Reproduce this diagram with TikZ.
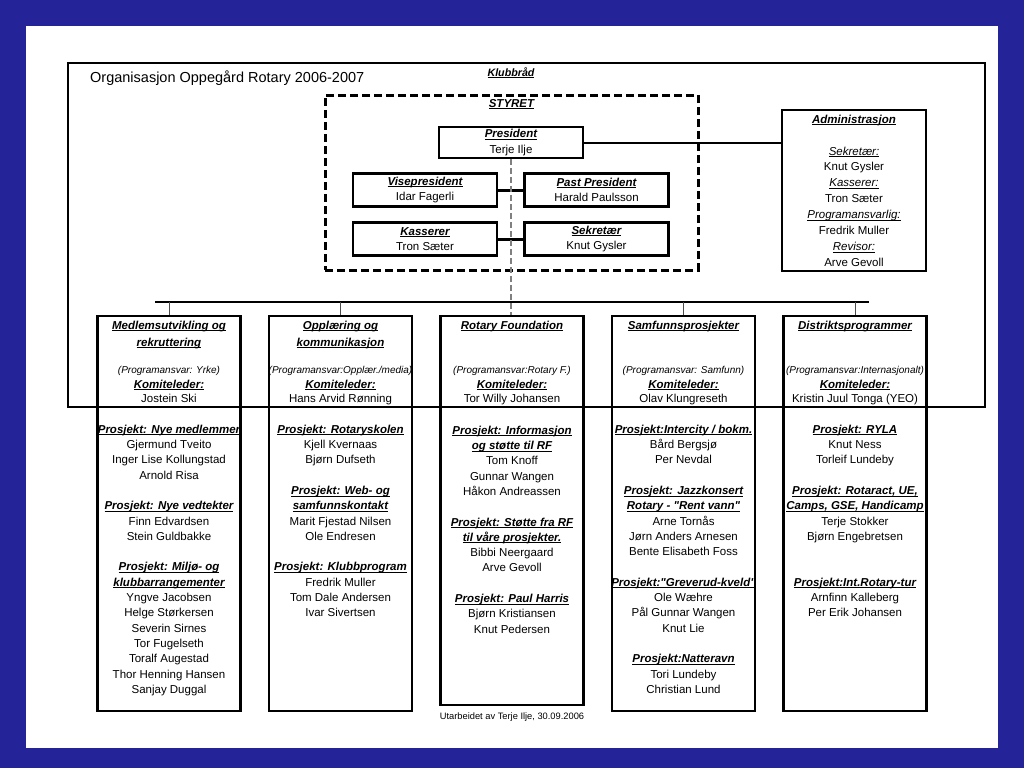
\documentclass[tikz,border=0pt]{standalone}
\usepackage{fontspec}
\setmainfont{Liberation Sans}[Ligatures=TeXOff]
\definecolor{bgblue}{RGB}{36,36,152}
\newcommand\ulx[1]{\setbox0\hbox{#1}\rlap{\rule[-1.7pt]{\wd0}{0.6pt}}\box0}
\newcommand\hd[1]{\ulx{\bfseries\itshape #1}}
\newcommand\hi[1]{\ulx{\itshape #1}}
\newcommand\nf{\fontsize{11.5}{15.3}\selectfont}
\newcommand\strutx{\rule{0pt}{10pt}}
\tikzset{
  box/.style={draw=black, line width=2.8pt, inner sep=0pt, minimum width=143pt},
  sbox/.style={box, minimum width=144pt, minimum height=33pt, align=center, font=\fontsize{11.5}{15.5}\selectfont},
  colbox/.style={box, minimum height=395pt},
  txt/.style={inner sep=0pt, align=center, font=\nf},
  small/.style={inner sep=0pt, font=\fontsize{10}{12}\selectfont\itshape},
  conn/.style={draw=black, line width=3pt},
  drop/.style={draw=gray!60!black, line width=1pt},
}
\begin{document}
\begin{tikzpicture}[x=1pt,y=-1pt]
\fill[bgblue] (0,0) rectangle (1024,768);
\fill[white] (26,26) rectangle (998,748);
\useasboundingbox (0,0) rectangle (1024,768);

% Klubbraad frame
\node[draw=black, line width=1.5pt, minimum width=917pt, minimum height=344pt, inner sep=0pt] (klubb) at (526.5,235) {};
\node[anchor=base west, inner sep=0pt, font=\fontsize{14.5}{17}\selectfont] (title) at (90,82) {Organisasjon Oppegård Rotary 2006-2007};
\node[anchor=base, inner sep=0pt, font=\fontsize{10.7}{12}\selectfont] (klubbt) at (511,76) {\hd{Klubbråd}};

% Styret
\node[draw=black, line width=3pt, dash pattern=on 8pt off 4pt, minimum width=373pt, minimum height=175pt, inner sep=0pt] (styret) at (511.5,182.5) {};
\node[anchor=base, inner sep=0pt, font=\nf] (styrett) at (511.5,107) {\hd{STYRET}};
\node[sbox, minimum height=31pt] (pres) at (511,142.5) {\hd{President}\\Terje Ilje};
\node[sbox] (vise) at (425,190) {\hd{Visepresident}\\Idar Fagerli};
\node[sbox] (past) at (596.5,190) {\hd{Past President}\\Harald Paulsson};
\node[sbox] (kass) at (425,239) {\hd{Kasserer}\\Tron Sæter};
\node[sbox] (sekr) at (596.5,239) {\hd{Sekretær}\\Knut Gysler};
\draw[conn] (vise) -- (past);
\draw[conn] (kass) -- (sekr);

% Administrasjon
\node[box, minimum width=144pt, minimum height=161pt] (adm) at (854,190.5) {};
\node[txt, anchor=north, font=\fontsize{11.5}{15.9}\selectfont] (admt) at (854,113) {\strutx\hd{Administrasjon}\\[15.9pt]
\hi{Sekretær:}\\Knut Gysler\\\hi{Kasserer:}\\Tron Sæter\\\hi{Programansvarlig:}\\Fredrik Muller\\\hi{Revisor:}\\Arve Gevoll};
\draw[line width=2pt] (pres.east) -- (pres.east -| adm.west);

% Columns
\node[colbox] (col1) at (169,513.5) {};
\node[colbox] (col2) at (340.5,513.5) {};
\node[colbox, minimum height=389pt] (col3) at (512,510.5) {};
\node[colbox] (col4) at (683.5,513.5) {};
\node[colbox] (col5) at (855,513.5) {};

% bus and drops
\coordinate (busL) at (155,302);
\coordinate (busR) at (869,302);
\draw[line width=2.2pt] (busL) -- (busR);
\draw[drop] (col1.north |- busL) -- (col1.north);
\draw[drop] (col2.north |- busL) -- (col2.north);
\draw[drop] (col4.north |- busL) -- (col4.north);
\draw[drop] (col5.north |- busL) -- (col5.north);
\draw[gray, line width=1.5pt, dash pattern=on 6pt off 3pt] (pres.south) -- (pres.south |- col3.north);

% Column headers
\node[txt, anchor=north] (h1) at (169,319) {\strutx\hd{Medlemsutvikling og}\\[1.5pt]\hd{rekruttering}};
\node[txt, anchor=north] (h2) at (340.5,319) {\strutx\hd{Opplæring og}\\[1.5pt]\hd{kommunikasjon}};
\node[txt, anchor=north] (h3) at (512,319) {\strutx\hd{Rotary Foundation}};
\node[txt, anchor=north] (h4) at (683.5,319) {\strutx\hd{Samfunnsprosjekter}};
\node[txt, anchor=north] (h5) at (855,319) {\strutx\hd{Distriktsprogrammer}};

\node[small, anchor=base] (p1) at (169,373.5) {(Programansvar: Yrke)};
\node[small, anchor=base] (p2) at (340.5,373.5) {(Programansvar:Opplær./media)};
\node[small, anchor=base] (p3) at (512,373.5) {(Programansvar:Rotary F.)};
\node[small, anchor=base] (p4) at (683.5,373.5) {(Programansvar: Samfunn)};
\node[small, anchor=base] (p5) at (855,373.5) {(Programansvar:Internasjonalt)};

\foreach \i/\x in {1/169,2/340.5,3/512,4/683.5,5/855}
  \node[txt, anchor=base] (k\i) at (\x,388) {\hd{Komiteleder:}};

\node[txt, anchor=base] (n1) at (169,402) {Jostein Ski};
\node[txt, anchor=base] (n2) at (340.5,402) {Hans Arvid Rønning};
\node[txt, anchor=base] (n3) at (512,402) {Tor Willy Johansen};
\node[txt, anchor=base] (n4) at (683.5,402) {Olav Klungreseth};
\node[txt, anchor=base] (n5) at (855,402) {Kristin Juul Tonga (YEO)};

% Project lists
\node[txt, anchor=north] (l1) at (169,423) {\strutx\hd{Prosjekt: Nye medlemmer}\\
Gjermund Tveito\\Inger Lise Kollungstad\\Arnold Risa\\[15.3pt]
\hd{Prosjekt: Nye vedtekter}\\Finn Edvardsen\\Stein Guldbakke\\[15.3pt]
\hd{Prosjekt: Miljø- og}\\\hd{klubbarrangementer}\\Yngve Jacobsen\\Helge Størkersen\\Severin Sirnes\\Tor Fugelseth\\Toralf Augestad\\Thor Henning Hansen\\Sanjay Duggal};

\node[txt, anchor=north] (l2) at (340.5,423) {\strutx\hd{Prosjekt: Rotaryskolen}\\
Kjell Kvernaas\\Bjørn Dufseth\\[15.3pt]
\hd{Prosjekt: Web- og}\\\hd{samfunnskontakt}\\Marit Fjestad Nilsen\\Ole Endresen\\[15.3pt]
\hd{Prosjekt: Klubbprogram}\\Fredrik Muller\\Tom Dale Andersen\\Ivar Sivertsen};

\node[txt, anchor=north] (l3) at (512,424) {\strutx\hd{Prosjekt: Informasjon}\\
\hd{og støtte til RF}\\Tom Knoff\\Gunnar Wangen\\Håkon Andreassen\\[15.3pt]
\hd{Prosjekt: Støtte fra RF}\\\hd{til våre prosjekter.}\\Bibbi Neergaard\\Arve Gevoll\\[15.3pt]
\hd{Prosjekt: Paul Harris}\\Bjørn Kristiansen\\Knut Pedersen};

\node[txt, anchor=north] (l4) at (683.5,423) {\strutx\hd{Prosjekt:Intercity / bokm.}\\
Bård Bergsjø\\Per Nevdal\\[15.3pt]
\hd{Prosjekt: Jazzkonsert}\\\hd{Rotary - "Rent vann"}\\Arne Tornås\\Jørn Anders Arnesen\\Bente Elisabeth Foss\\[15.3pt]
\hd{Prosjekt:"Greverud-kveld"}\\Ole Wæhre\\Pål Gunnar Wangen\\Knut Lie\\[15.3pt]
\hd{Prosjekt:Natteravn}\\Tori Lundeby\\Christian Lund};

\node[txt, anchor=north] (l5) at (855,423) {\strutx\hd{Prosjekt: RYLA}\\
Knut Ness\\Torleif Lundeby\\[15.3pt]
\hd{Prosjekt: Rotaract, UE,}\\\hd{Camps, GSE, Handicamp}\\Terje Stokker\\Bjørn Engebretsen\\[30.6pt]
\hd{Prosjekt:Int.Rotary-tur}\\Arnfinn Kalleberg\\Per Erik Johansen};

\node[anchor=base, inner sep=0pt, font=\fontsize{9.3}{11}\selectfont] (foot) at (512,719) {Utarbeidet av Terje Ilje, 30.09.2006};
\end{tikzpicture}
\end{document}
